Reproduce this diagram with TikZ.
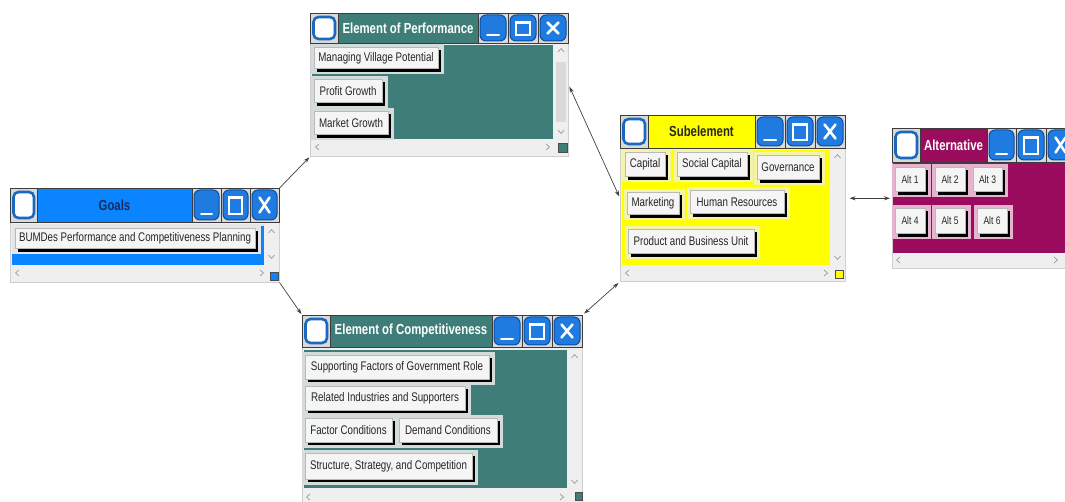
\documentclass[tikz,border=0pt]{standalone}
\usepackage{fontspec}
\setmainfont{Liberation Sans}[FakeStretch=0.78]
\usetikzlibrary{arrows.meta}

\definecolor{winbg}{HTML}{EFEFEF}
\definecolor{winedge}{HTML}{CFCFCF}
\definecolor{cellbg}{HTML}{D9D9D9}
\definecolor{cellline}{HTML}{3C3C3C}
\definecolor{btnblue}{HTML}{1F7BE0}
\definecolor{btnedge}{HTML}{0D4C9E}
\definecolor{goalsblue}{HTML}{0A84FF}
\definecolor{tealwin}{HTML}{3F7D79}
\definecolor{yellowwin}{HTML}{FFFF00}
\definecolor{magwin}{HTML}{9C0C5E}
\definecolor{navytext}{HTML}{1B2B5C}
\definecolor{chevgray}{HTML}{9A9A9A}
\definecolor{frgoals}{HTML}{E4E6EA}
\definecolor{frteal}{HTML}{D3DCDB}
\definecolor{fryellow}{HTML}{F4F4A6}
\definecolor{frmag}{HTML}{E6B4CE}

\tikzset{
  winframe/.style={draw=winedge, fill=winbg, line width=0.6pt, inner sep=0pt, anchor=north west},
  cellframe/.style={fill=cellbg, draw=cellline, line width=0.6pt},
  iconbox/.style={fill=white, draw=btnblue!85!black, line width=2.6pt, rounded corners=5pt},
  winbtn/.style={fill=btnblue, draw=btnedge, line width=1pt, rounded corners=6pt},
  glyph/.style={draw=white, line cap=round},
  titletext/.style={font=\bfseries\fontsize{14.6}{16}\selectfont, inner sep=0pt},
  itemface/.style={fill=white!96!black, draw=gray!55, line width=0.5pt, inner sep=0pt,
    text=black!85, font=\fontsize{12.5}{14}\selectfont},
  altface/.style={itemface, font=\fontsize{10.9}{12}\selectfont},
  chev/.style={draw=chevgray, line width=0.7pt},
  conn/.style={draw=black!75, line width=0.7pt},
  tip/.tip={Stealth[length=6pt,width=4pt]},
}

% title-bar pieces: left icon, minimise, maximise, close
\newcommand\iconcell[4]{%
  \filldraw[cellframe] (#1,#2) rectangle (#3,#4);
  \draw[iconbox] ({#1+3.5},{#2+4}) rectangle ({#3-3},{#4-4});}
\newcommand\minbtn[4]{%
  \filldraw[cellframe] (#1,#2) rectangle (#3,#4);
  \filldraw[winbtn] ({#1+2},{#2+2}) rectangle ({#3-2},{#4-2});
  \draw[glyph, line width=2pt] ({#1+9},{#4-7.5}) -- ({#3-9},{#4-7.5});}
\newcommand\maxbtn[4]{%
  \filldraw[cellframe] (#1,#2) rectangle (#3,#4);
  \filldraw[winbtn] ({#1+2},{#2+2}) rectangle ({#3-2},{#4-2});
  \draw[glyph, line width=1.6pt] ({#1+8},{#2+9}) rectangle ({#3-8},{#4-8});
  \draw[glyph, line width=2.4pt] ({#1+8},{#2+10}) -- ({#3-8},{#2+10});}
\newcommand\closebtn[4]{%
  \filldraw[cellframe] (#1,#2) rectangle (#3,#4);
  \filldraw[winbtn] ({#1+2},{#2+2}) rectangle ({#3-2},{#4-2});
  \draw[glyph, line width=2.6pt] ({#1+9.5},{#2+9.5}) -- ({#3-9.5},{#4-9.5})
                                 ({#3-9.5},{#2+9.5}) -- ({#1+9.5},{#4-9.5});}
% scroll-bar chevrons
\newcommand\chevup[2]{\draw[chev] ({#1-3},{#2+2}) -- (#1,{#2-1.5}) -- ({#1+3},{#2+2});}
\newcommand\chevdown[2]{\draw[chev] ({#1-3},{#2-2}) -- (#1,{#2+1.5}) -- ({#1+3},{#2-2});}
\newcommand\chevleft[2]{\draw[chev] ({#1+2},{#2-3}) -- ({#1-1.5},#2) -- ({#1+2},{#2+3});}
\newcommand\chevright[2]{\draw[chev] ({#1-2},{#2-3}) -- ({#1+1.5},#2) -- ({#1-2},{#2+3});}
% item button: name, x0, y0, x1, y1, frame colour, face style, label
\newcommand\itembtn[8]{%
  \fill[#6] ({#2-3},{#3-3}) rectangle ({#4+2.5},{#5+2.5});
  \fill[black] ({#2+3},{#3+3}) rectangle (#4,#5);
  \pgfmathsetmacro\bw{#4-#2-3.5}\pgfmathsetmacro\bh{#5-#3-3.5}
  \node[#7, minimum width=\bw pt, minimum height=\bh pt, anchor=north west] (#1) at (#2,#3) {#8};}

\begin{document}
\begin{tikzpicture}[x=1pt,y=-1pt]
\useasboundingbox (0,0) rectangle (1065,502);
\clip (0,0) rectangle (1065,502);
\fill[white] (0,0) rectangle (1065,502);

% ---------------- Goals ----------------
\node[winframe, minimum width=269pt, minimum height=94pt] (goals) at (10,188) {};
\iconcell{10}{188}{37}{222}
\filldraw[fill=goalsblue, draw=cellline, line width=0.6pt] (37,188) rectangle (192,222);
\node[titletext, text=navytext] (goalsT) at (114.5,205) {Goals};
\minbtn{192}{188}{221}{222}\maxbtn{221}{188}{250}{222}\closebtn{250}{188}{279}{222}
\fill[goalsblue] (12,224) rectangle (264,265);
\fill[frgoals] (12,224) rectangle (264,226);
\chevup{271.5}{231}\chevdown{271.5}{257}
\chevleft{17}{273}\chevright{262}{273}
\filldraw[fill=goalsblue, draw=black!70, line width=0.5pt] (270,272) rectangle (278,280);
\itembtn{g1}{15}{228}{258}{252}{frgoals}{itemface}{BUMDes Performance and Competitiveness Planning}

% ---------------- Element of Performance ----------------
\node[winframe, minimum width=258pt, minimum height=143pt] (perf) at (310,13) {};
\iconcell{310}{13}{338}{43}
\filldraw[fill=tealwin, draw=cellline, line width=0.6pt] (338,13) rectangle (478,43);
\node[titletext, text=white] (perfT) at (408,28) {Element of Performance};
\minbtn{478}{13}{508}{43}\maxbtn{508}{13}{538}{43}\closebtn{538}{13}{568}{43}
\fill[tealwin] (312,45) rectangle (553,139);
\fill[gray!30] (556,62) rectangle (566,122);
\chevup{561}{50}\chevdown{561}{132}
\chevleft{317}{147}\chevright{548}{147}
\filldraw[fill=tealwin, draw=black!70, line width=0.5pt] (558,143) rectangle (567,152);
\itembtn{p1}{314}{47}{441}{72}{frteal}{itemface}{Managing Village Potential}
\itembtn{p2}{314}{79}{385}{106}{frteal}{itemface}{Profit Growth}
\itembtn{p3}{314}{111}{391}{138}{frteal}{itemface}{Market Growth}

% ---------------- Subelement ----------------
\node[winframe, minimum width=225pt, minimum height=166pt] (sub) at (620,115) {};
\iconcell{620}{115}{648}{148}
\filldraw[fill=yellowwin, draw=cellline, line width=0.6pt] (648,115) rectangle (755,148);
\node[titletext, text=black!85] (subT) at (701.5,131.5) {Subelement};
\minbtn{755}{115}{785}{148}\maxbtn{785}{115}{815}{148}\closebtn{815}{115}{845}{148}
\fill[yellowwin] (622,150) rectangle (830,265);
\chevup{837.5}{156}\chevdown{837.5}{258}
\chevleft{627}{273}\chevright{826}{273}
\filldraw[fill=yellowwin, draw=black!70, line width=0.5pt] (835,270) rectangle (843,278);
\itembtn{s1}{625}{152}{668}{180}{fryellow}{itemface}{Capital}
\itembtn{s2}{677}{152}{750}{180}{fryellow}{itemface}{Social Capital}
\itembtn{s3}{757}{155}{822}{183}{fryellow}{itemface}{Governance}
\itembtn{s4}{627}{192}{682}{218}{fryellow}{itemface}{Marketing}
\itembtn{s5}{690}{190}{787}{217}{fryellow}{itemface}{Human Resources}
\itembtn{s6}{628}{229}{757}{257}{fryellow}{itemface}{Product and Business Unit}

% ---------------- Alternative ----------------
\node[winframe, minimum width=183pt, minimum height=140pt] (alt) at (892,128) {};
\iconcell{892}{128}{920}{162}
\filldraw[fill=magwin, draw=cellline, line width=0.6pt] (920,128) rectangle (987,162);
\node[titletext, text=white] (altT) at (953.5,145) {Alternative};
\minbtn{987}{128}{1016}{162}\maxbtn{1016}{128}{1046}{162}\closebtn{1046}{128}{1075}{162}
\fill[magwin] (893,163) rectangle (1065,253);
\chevleft{898}{260}\chevright{1056}{260}
\itembtn{a1}{895}{167}{928}{195}{frmag}{altface}{Alt 1}
\itembtn{a2}{935}{167}{968}{195}{frmag}{altface}{Alt 2}
\itembtn{a3}{973}{167}{1005}{195}{frmag}{altface}{Alt 3}
\itembtn{a4}{895}{208}{928}{237}{frmag}{altface}{Alt 4}
\itembtn{a5}{935}{208}{968}{237}{frmag}{altface}{Alt 5}
\itembtn{a6}{977}{208}{1010}{237}{frmag}{altface}{Alt 6}

% ---------------- Element of Competitiveness ----------------
\node[winframe, minimum width=280pt, minimum height=190pt] (comp) at (302,315) {};
\iconcell{302}{315}{330}{347}
\filldraw[fill=tealwin, draw=cellline, line width=0.6pt] (330,315) rectangle (492,347);
\node[titletext, text=white] (compT) at (411,331) {Element of Competitiveness};
\minbtn{492}{315}{522}{347}\maxbtn{522}{315}{552}{347}\closebtn{552}{315}{582}{347}
\fill[tealwin] (304,350) rectangle (567,488);
\chevup{574.5}{356}\chevdown{574.5}{482}
\chevleft{308}{497}\chevright{562}{497}
\filldraw[fill=tealwin, draw=black!70, line width=0.5pt] (575,492) rectangle (582,500);
\itembtn{c1}{305}{355}{492}{382}{frteal}{itemface}{Supporting Factors of Government Role}
\itembtn{c2}{305}{386}{468}{413}{frteal}{itemface}{Related Industries and Supporters}
\itembtn{c3}{305}{418}{395}{445}{frteal}{itemface}{Factor Conditions}
\itembtn{c4}{399}{418}{500}{445}{frteal}{itemface}{Demand Conditions}
\itembtn{c5}{305}{453}{475}{482}{frteal}{itemface}{Structure, Strategy, and Competition}

% ---------------- connectors ----------------
\draw[conn, -tip, shorten >=1pt] (goals.north east) -- (perf.south west);
\draw[conn, -tip, shorten >=1pt] (goals.south east) -- (comp.north west);
\draw[conn, tip-tip, shorten <=2pt, shorten >=2pt] (perf.east) -- (sub.west);
\draw[conn, tip-tip, shorten <=2pt, shorten >=2pt] (comp.north east) -- (sub.south west);
\draw[conn, tip-tip, shorten <=4pt, shorten >=2pt] (sub.east) -- (alt.west);
\end{tikzpicture}
\end{document}
